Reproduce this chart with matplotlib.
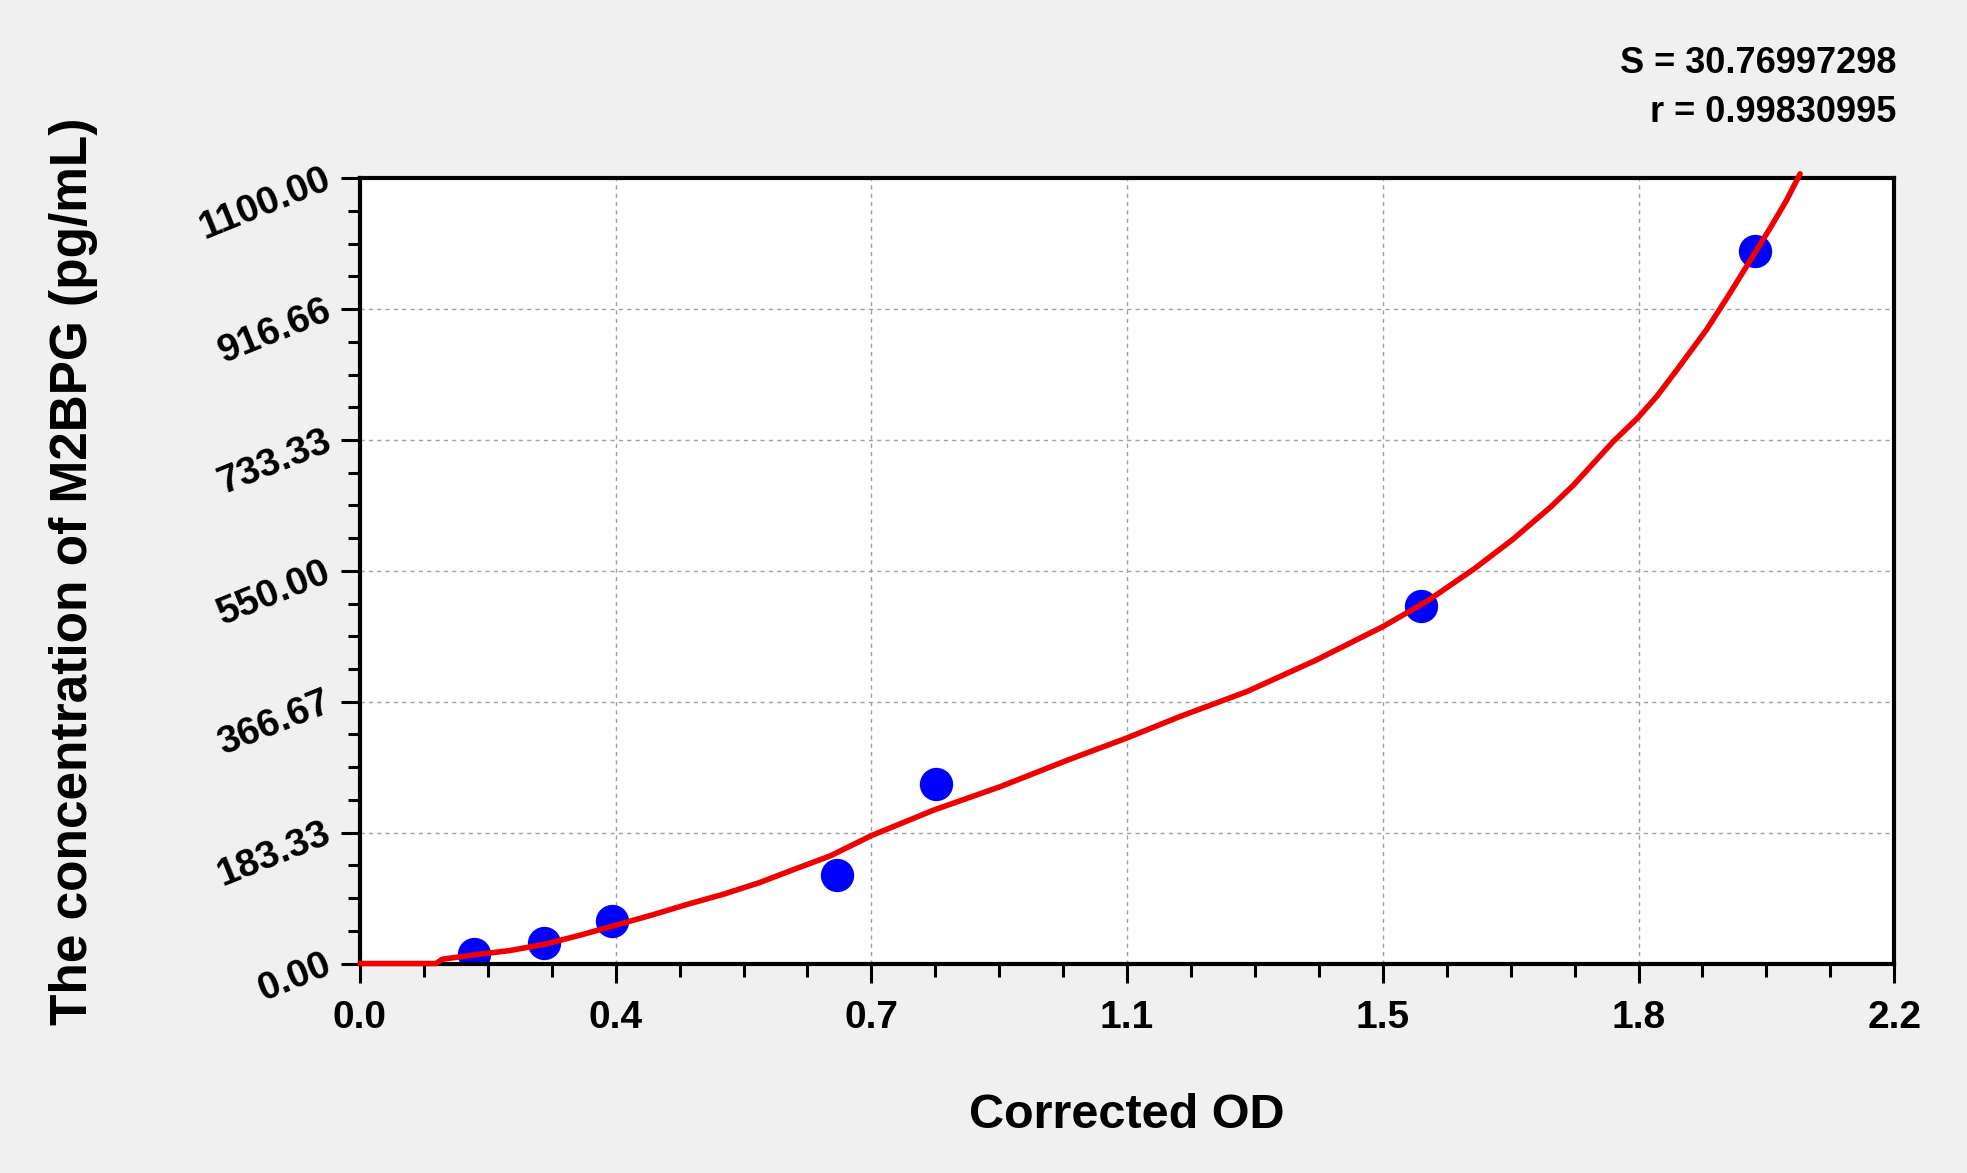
import numpy as np
import matplotlib
matplotlib.use("Agg")
import matplotlib.pyplot as plt
from matplotlib.ticker import FixedLocator

plt.rcParams['font.family'] = ['Liberation Sans', 'DejaVu Sans']
plt.rcParams['font.weight'] = 'bold'

# standards (corrected OD vs concentration)
od_points = [0.164, 0.264, 0.362, 0.684, 0.826, 1.521, 2.000]
conc_points = [14, 29, 60, 124, 251, 501, 998]

# fitted curve
curve_od = [0.0, 0.109, 0.118, 0.163, 0.214, 0.265, 0.317, 0.368, 0.419, 0.470,
            0.521, 0.572, 0.623, 0.675, 0.733, 0.823, 0.919, 1.015, 1.100, 1.176,
            1.272, 1.369, 1.467, 1.531, 1.598, 1.653, 1.708, 1.740, 1.797, 1.833,
            1.860, 1.888, 1.931, 1.960, 2.000, 2.022, 2.045, 2.065]
curve_conc = [0, 0, 6, 12, 18, 27, 40, 54, 68, 83,
              97, 113, 132, 151, 179, 215, 248, 285, 316, 346,
              381, 424, 472, 508, 553, 594, 640, 670, 731, 765,
              795, 831, 888, 932, 995, 1030, 1068, 1106]

x_ticks = list(np.linspace(0, 2.2, 7))
x_labels = ['0.0', '0.4', '0.7', '1.1', '1.5', '1.8', '2.2']
y_ticks = list(np.linspace(0, 1100, 7))
y_labels = ['0.00', '183.33', '366.67', '550.00', '733.33', '916.66', '1100.00']

S_value = "30.76997298"
r_value = "0.99830995"

fig = plt.figure(figsize=(19.67, 11.73), dpi=100, facecolor='#f0f0f0')
ax = fig.add_axes([0.183, 0.1786, 0.780, 0.6695])
ax.set_facecolor('white')

ax.plot(curve_od, curve_conc, color='#f00000', lw=4, clip_on=False, zorder=3,
        solid_capstyle='round', solid_joinstyle='round')
ax.plot(od_points, conc_points, 'o', color='#0000ff', ms=24, mew=0, zorder=2)

ax.set_xlim(0, 2.2)
ax.set_ylim(0, 1100)
ax.set_xticks(x_ticks)
ax.set_xticklabels(x_labels)
ax.set_yticks(y_ticks)
ax.set_yticklabels(y_labels, rotation=22, ha='right', va='center', rotation_mode='anchor')
ax.xaxis.set_minor_locator(FixedLocator(np.linspace(0, 2.2, 25)))
ax.yaxis.set_minor_locator(FixedLocator(np.linspace(0, 1100, 25)))

ax.tick_params(which='major', direction='out', length=14, width=2.2, labelsize=28)
ax.tick_params(which='minor', direction='out', length=9, width=2.2)
ax.tick_params(axis='x', pad=12)
ax.tick_params(axis='y', pad=8)
for sp in ax.spines.values():
    sp.set_linewidth(3)

ax.grid(True, which='major', color='#a0a0a0', linestyle=(0, (3, 3)), lw=1)
ax.set_axisbelow(True)

ax.set_xlabel('Corrected OD', fontsize=35, fontweight='bold')
ax.xaxis.set_label_coords(0.5, -0.165)
ax.set_ylabel('The concentration of M2BPG (pg/mL)', fontsize=37, fontweight='bold')
ax.yaxis.set_label_coords(-0.171, 0.5)

fig.text(0.964, 0.946, "S = " + S_value, ha='right', va='center', fontsize=26, fontweight='bold')
fig.text(0.964, 0.904, "r = " + r_value, ha='right', va='center', fontsize=26, fontweight='bold')

fig.savefig('out.png', dpi=100, facecolor=fig.get_facecolor())
